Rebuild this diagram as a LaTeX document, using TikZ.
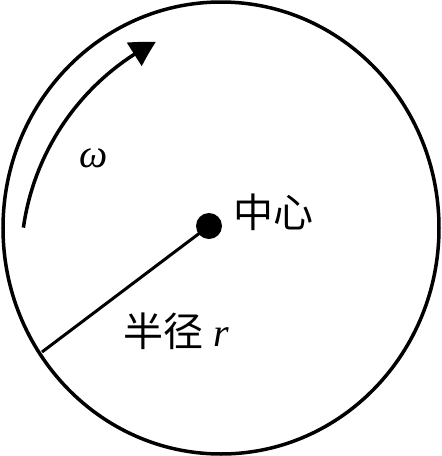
\documentclass[tikz,border=0pt]{standalone}
\usepackage{fontspec}
\setmainfont{Liberation Serif}
\newfontfamily\cjk{Noto Sans CJK SC}
\usetikzlibrary{arrows.meta,bending,calc}
\tikzset{
  rim/.style={line width=3.5pt},
  spin/.style={line width=3.5pt,-{Triangle[length=25pt,width=27pt,bend]}},
  lbl/.style={inner sep=0pt,font=\fontsize{40}{40}\selectfont},
}
\begin{document}
\begin{tikzpicture}[x=1pt,y=-1pt]
\useasboundingbox (0,0) rectangle (442,456);
\coordinate (c) at (221,228);
\draw[rim] (c) ellipse[x radius=218,y radius=226];
\node[circle,fill=black,inner sep=0pt,minimum size=26pt] (dot) at (209,226) {};
\coordinate (edge) at (42,352);
\draw[line width=3pt] (dot.center) -- (edge);
\coordinate (ac) at (268,262);
\draw[spin] ($(ac)+(188:247)$) arc[start angle=188,end angle=243,radius=247];
\node[lbl] (w) at (94,158) {\itshape ω};
\node[lbl,anchor=west] (center) at (233,212) {\cjk 中心};
\node[lbl,anchor=west] (radius) at (123,331) {{\cjk 半径} \itshape r};
\end{tikzpicture}
\end{document}
